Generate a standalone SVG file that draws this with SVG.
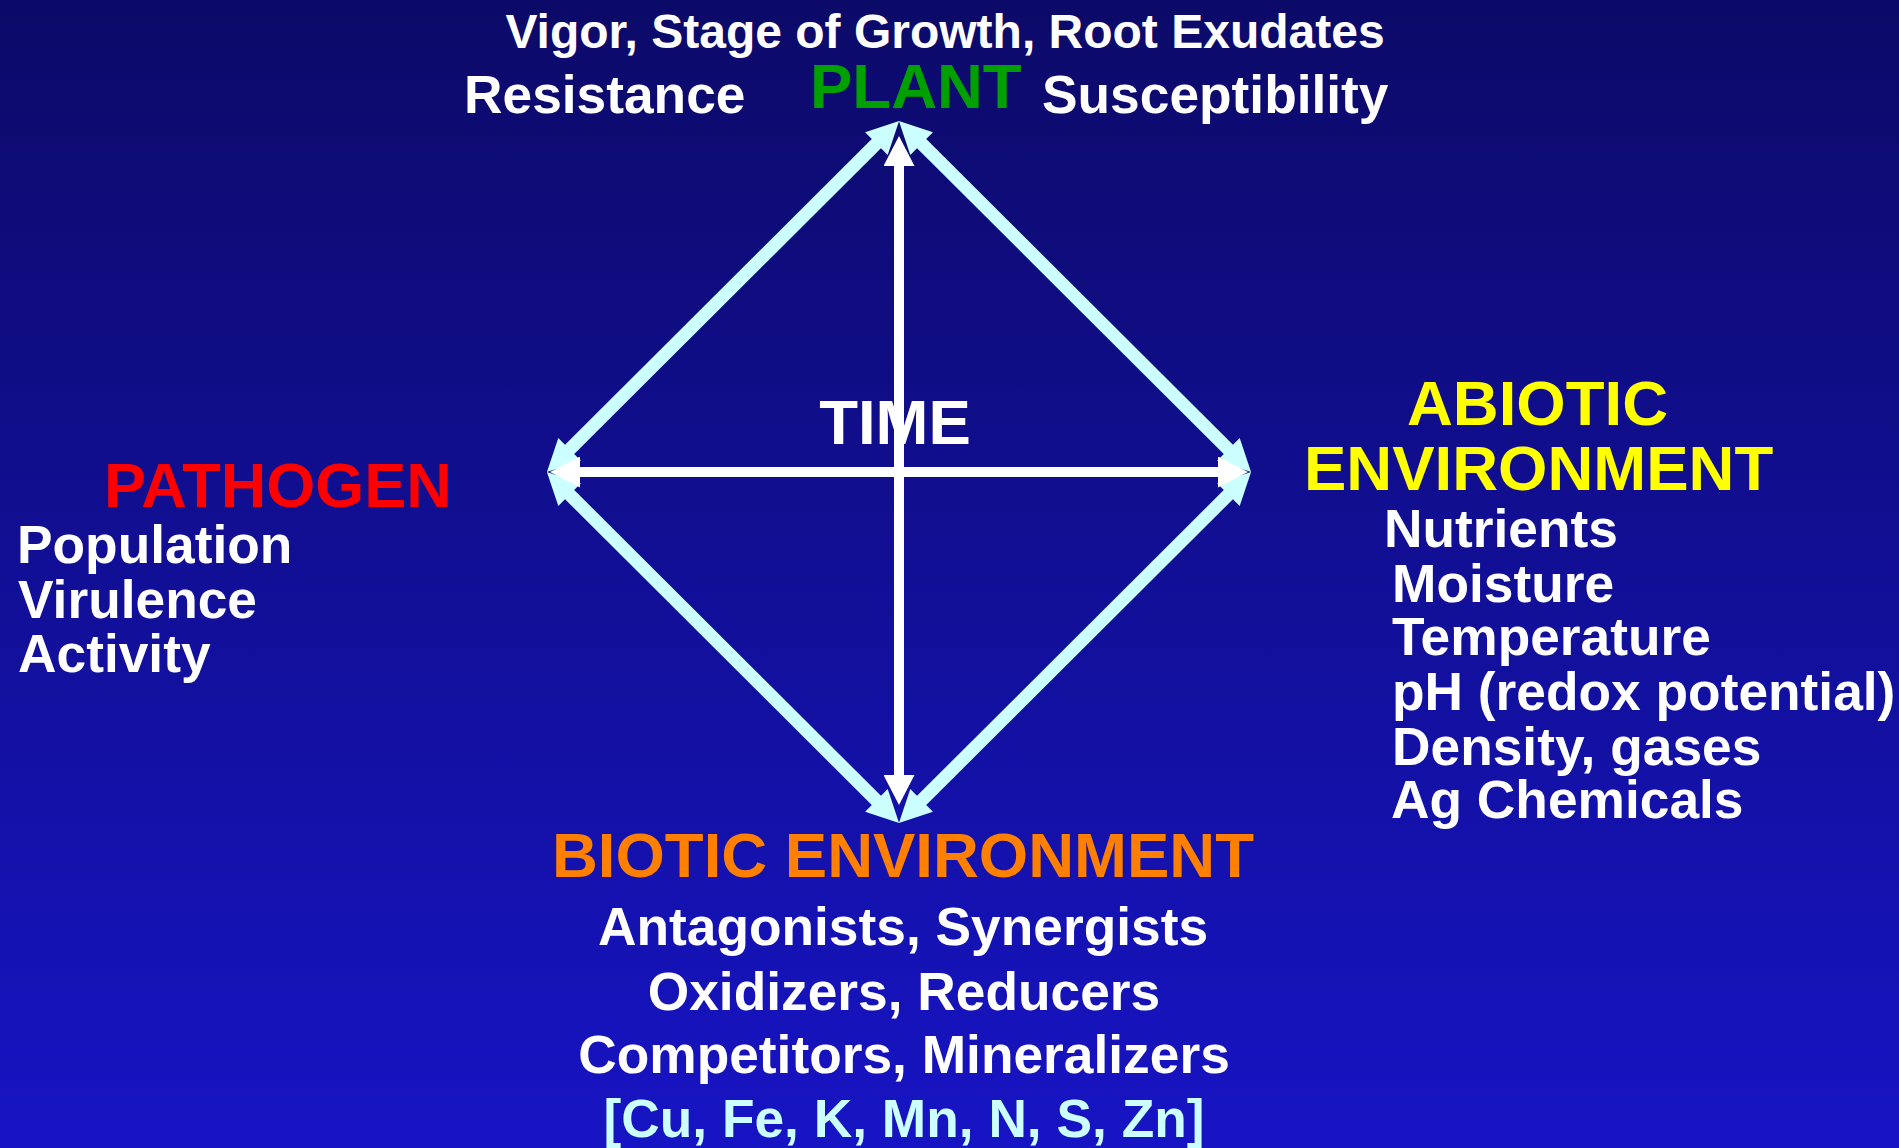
<svg xmlns="http://www.w3.org/2000/svg" width="1899" height="1148" viewBox="0 0 1899 1148">
<defs>
<linearGradient id="bg" x1="0" y1="0" x2="0" y2="1">
<stop offset="0" stop-color="#0c0a68"/>
<stop offset="1" stop-color="#1714c4"/>
</linearGradient>
<marker id="cyanHead" markerUnits="userSpaceOnUse" markerWidth="32" markerHeight="32" viewBox="0 0 32 32" refX="12" refY="16" orient="auto-start-reverse">
<path d="M0,0 L32,16 L0,32 Z" fill="#ccffff"/>
</marker>
<marker id="whiteHead" markerUnits="userSpaceOnUse" markerWidth="30" markerHeight="31" viewBox="0 0 30 31" refX="12" refY="15.5" orient="auto-start-reverse">
<path d="M0,0 L30,15.5 L0,31 Z" fill="#ffffff"/>
</marker>
<style>
text { font-family: "Liberation Sans", Arial, sans-serif; font-weight: bold; }
.body { font-size: 53.3px; fill: #ffffff; }
.head { font-size: 63.5px; }
.cyanLine { stroke: #ccffff; stroke-width: 13; fill: none; marker-start: url(#cyanHead); marker-end: url(#cyanHead); }
.whiteLine { stroke: #ffffff; stroke-width: 10; fill: none; marker-start: url(#whiteHead); marker-end: url(#whiteHead); }
</style>
</defs>
<rect x="0" y="0" width="1899" height="1148" fill="url(#bg)"/>

<g id="time">
<text class="head" x="895" y="444" text-anchor="middle" fill="#ffffff">TIME</text>
</g>

<g id="connectors">
<line class="cyanLine" x1="561.1" y1="457.9" x2="884.9" y2="135.1"/>
<line class="cyanLine" x1="913.1" y1="135.1" x2="1236.9" y2="457.9"/>
<line class="cyanLine" x1="1236.9" y1="486.1" x2="913.1" y2="808.9"/>
<line class="cyanLine" x1="884.9" y1="808.9" x2="561.1" y2="486.1"/>
<line class="whiteLine" x1="899" y1="154" x2="899" y2="787"/>
<line class="whiteLine" x1="568" y1="472" x2="1230" y2="472"/>
</g>

<g id="plant">
<text x="945" y="48" text-anchor="middle" fill="#ffffff" font-size="48">Vigor, Stage of Growth, Root Exudates</text>
<text class="body" x="464" y="113">Resistance</text>
<text class="head" x="810" y="108" fill="#00a000">PLANT</text>
<text class="body" x="1042" y="113">Susceptibility</text>
</g>

<g id="pathogen">
<text x="104" y="507" fill="#ff0000" font-size="63">PATHOGEN</text>
<text class="body" x="17" y="563">Population</text>
<text class="body" x="18" y="618">Virulence</text>
<text class="body" x="18" y="672">Activity</text>
</g>

<g id="abiotic">
<text class="head" x="1407" y="425" fill="#ffff00">ABIOTIC</text>
<text class="head" x="1304" y="490" fill="#ffff00">ENVIRONMENT</text>
<text class="body" x="1384" y="547">Nutrients</text>
<text class="body" x="1392" y="602">Moisture</text>
<text class="body" x="1392" y="655">Temperature</text>
<text class="body" x="1392" y="710">pH (redox potential)</text>
<text class="body" x="1392" y="765">Density, gases</text>
<text class="body" x="1391" y="818">Ag Chemicals</text>
</g>

<g id="biotic">
<text class="head" x="903" y="877" text-anchor="middle" fill="#ff8000">BIOTIC ENVIRONMENT</text>
<text class="body" x="903" y="945" text-anchor="middle">Antagonists, Synergists</text>
<text class="body" x="904" y="1010" text-anchor="middle">Oxidizers, Reducers</text>
<text class="body" x="904" y="1073" text-anchor="middle">Competitors, Mineralizers</text>
<text class="body" x="904" y="1137" text-anchor="middle" style="fill:#ccffff">[Cu, Fe, K, Mn, N, S, Zn]</text>
</g>
</svg>
